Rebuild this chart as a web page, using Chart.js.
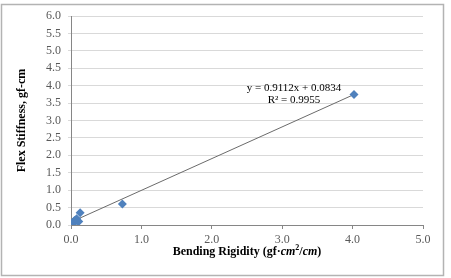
<!DOCTYPE html>
<html>
<head>
<title>Flex Stiffness vs Bending Rigidity</title>
<script src="https://cdn.jsdelivr.net/npm/chart.js@4/dist/chart.umd.min.js"></script>
<style>
  body { margin: 0; background: #fff; }
</style>
</head>
<body>
<canvas id="myChart" width="451" height="278"></canvas>
<script>
// measured points
let bendingRigidity = [0.03, 0.05, 0.06, 0.08, 0.09, 0.11, 0.13, 0.73, 4.02];
let flexStiffness   = [0.08, 0.13, 0.10, 0.18, 0.12, 0.10, 0.35, 0.60, 3.75];

// linear trendline as printed on the chart
let slope = 0.9112;
let intercept = 0.0834;
let trendX = [0.03, 4.02];
let equationText = ['y = 0.9112x + 0.0834', 'R² = 0.9955'];

let xTicks = [0, 1, 2, 3, 4, 5];
let yTicks = [0, 0.5, 1, 1.5, 2, 2.5, 3, 3.5, 4, 4.5, 5, 5.5, 6];

let serif = '"Liberation Serif", "DejaVu Serif", serif';

function getPoints(xs, ys) {
    let pts = [];
    xs.forEach((x, i) => pts.push({x: x, y: ys[i]}));
    return pts;
}

// border, axis titles and equation label
const extras = {
    id: 'extras',
    beforeDraw(chart) {
        const c = chart.ctx;
        c.save();
        c.fillStyle = '#fff';
        c.fillRect(0, 0, chart.width, chart.height);
        c.restore();
    },
    afterDraw(chart) {
        const c = chart.ctx;
        const area = chart.chartArea;
        c.save();
        c.strokeStyle = '#b3b3b3';
        c.lineWidth = 1.5;
        c.strokeRect(1.5, 4.5, 442, 271);

        c.fillStyle = '#000';
        // y title
        c.save();
        c.translate(22, (area.top + area.bottom) / 2);
        c.rotate(-Math.PI / 2);
        c.font = 'bold 12px ' + serif;
        c.textAlign = 'center';
        c.textBaseline = 'middle';
        c.fillText('Flex Stiffness, gf-cm', 0, 0);
        c.restore();

        // x title with italic units and superscript
        let parts = [
            ['Bending Rigidity (gf·', 'bold 12px '],
            ['cm', 'italic bold 12px '],
            ['2', 'bold 8px ', -5],
            ['/', 'bold 12px '],
            ['cm', 'italic bold 12px '],
            [')', 'bold 12px ']
        ];
        let total = 0;
        parts.forEach(p => { c.font = p[1] + serif; total += c.measureText(p[0]).width; });
        let x = (area.left + area.right) / 2 - total / 2;
        c.textBaseline = 'alphabetic';
        parts.forEach(p => {
            c.font = p[1] + serif;
            c.fillText(p[0], x, 255 + (p[2] || 0));
            x += c.measureText(p[0]).width;
        });

        // trendline equation
        c.font = '11px ' + serif;
        c.textAlign = 'center';
        c.textBaseline = 'middle';
        c.fillStyle = '#000';
        c.fillText(equationText[0], 294, 88);
        c.fillText(equationText[1], 294, 100);
        c.restore();
    }
};

let ctx = document.getElementById('myChart');
let myChart = new Chart(ctx, {
    type: 'scatter',
    data: {
        datasets: [
            {
                label: 'Flex Stiffness',
                data: getPoints(bendingRigidity, flexStiffness),
                pointStyle: 'rectRot',
                pointRadius: 4.5,
                backgroundColor: '#4f81bd',
                borderColor: '#4f81bd',
                borderWidth: 0,
                order: 1
            },
            {
                label: 'Linear',
                type: 'line',
                data: trendX.map(x => ({x: x, y: slope * x + intercept})),
                borderColor: '#6b6b6b',
                borderWidth: 1,
                pointRadius: 0,
                fill: false,
                order: 2
            }
        ]
    },
    options: {
        responsive: false,
        animation: false,
        layout: { padding: { left: 0, right: 28, top: 16, bottom: 0 } },
        plugins: {
            legend: { display: false },
            tooltip: { enabled: false }
        },
        scales: {
            x: {
                type: 'linear',
                min: 0,
                max: 5,
                afterBuildTicks: axis => { axis.ticks = xTicks.map(v => ({value: v})); },
                afterFit: axis => { axis.height = 53; },
                grid: { display: true, drawOnChartArea: false, color: '#868686', tickLength: 4 },
                border: { color: '#868686' },
                ticks: {
                    color: '#595959',
                    padding: 4,
                    maxRotation: 0,
                    font: { family: serif, size: 12 },
                    callback: v => v.toFixed(1)
                }
            },
            y: {
                type: 'linear',
                min: 0,
                max: 6,
                afterBuildTicks: axis => { axis.ticks = yTicks.map(v => ({value: v})); },
                afterFit: axis => { axis.width = 71; },
                grid: { color: '#d9d9d9', tickLength: 3 },
                border: { color: '#868686' },
                ticks: {
                    color: '#595959',
                    padding: 7,
                    font: { family: serif, size: 12 },
                    callback: v => v.toFixed(1)
                }
            }
        }
    },
    plugins: [extras]
});
</script>
</body>
</html>
